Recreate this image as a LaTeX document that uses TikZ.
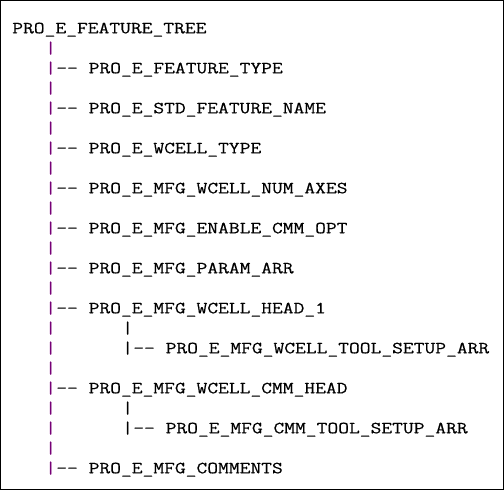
\documentclass[tikz,border=0pt]{standalone}
\usepackage{fontspec}
\setmonofont{Latin Modern Mono}[FakeStretch=1.232, FakeBold=0.4]
\usepackage{xcolor}
\definecolor{treebar}{HTML}{760076}
\definecolor{treetext}{HTML}{000000}
\usetikzlibrary{positioning}

\begin{document}
\begin{tikzpicture}[
      x=1pt, y=-1pt,
      entry/.style={anchor=base west, inner sep=0pt, outer sep=0pt, text=treetext, font=\ttfamily\fontsize{17}{20}\selectfont},
      bar/.style={entry, text=treebar},
      subbar/.style={entry, text=treetext},
    ]
    \useasboundingbox (0,0) rectangle (504,490);
    \draw[line width=1pt] (0.5,0.5) rectangle (503.5,489.5);

    % root
    \node[entry] (root) at (12.3,33.3) {PRO\_E\_FEATURE\_TREE};

    % main trunk, one bar per row
    \foreach \r in {1,...,22}
      \node[bar] (b\r) at (45.3,33.3+20*\r) {|};

    % first level
    \node[entry] (ftype) at (56.3,73.3)  {-- PRO\_E\_FEATURE\_TYPE};
    \node[entry] (fname) at (56.3,113.3) {-- PRO\_E\_STD\_FEATURE\_NAME};
    \node[entry] (wtype) at (56.3,153.3) {-- PRO\_E\_WCELL\_TYPE};
    \node[entry] (naxes) at (56.3,193.3) {-- PRO\_E\_MFG\_WCELL\_NUM\_AXES};
    \node[entry] (cmmopt) at (56.3,233.3) {-- PRO\_E\_MFG\_ENABLE\_CMM\_OPT};
    \node[entry] (parr) at (56.3,273.3) {-- PRO\_E\_MFG\_PARAM\_ARR};
    \node[entry] (head) at (56.3,313.3) {-- PRO\_E\_MFG\_WCELL\_HEAD\_1};
    \node[entry] (cmmhead) at (56.3,393.3) {-- PRO\_E\_MFG\_WCELL\_CMM\_HEAD};
    \node[entry] (comments) at (56.3,473.3) {-- PRO\_E\_MFG\_COMMENTS};

    % second level
    \node[subbar] (s1) at (122.3,333.3) {|};
    \node[subbar] (s2) at (122.3,353.3) {|};
    \node[entry] (wsetup) at (133.3,353.3) {-- PRO\_E\_MFG\_WCELL\_TOOL\_SETUP\_ARR};
    \node[subbar] (s3) at (122.3,413.3) {|};
    \node[subbar] (s4) at (122.3,433.3) {|};
    \node[entry] (csetup) at (133.3,433.3) {-- PRO\_E\_MFG\_CMM\_TOOL\_SETUP\_ARR};
  \end{tikzpicture}
\end{document}
